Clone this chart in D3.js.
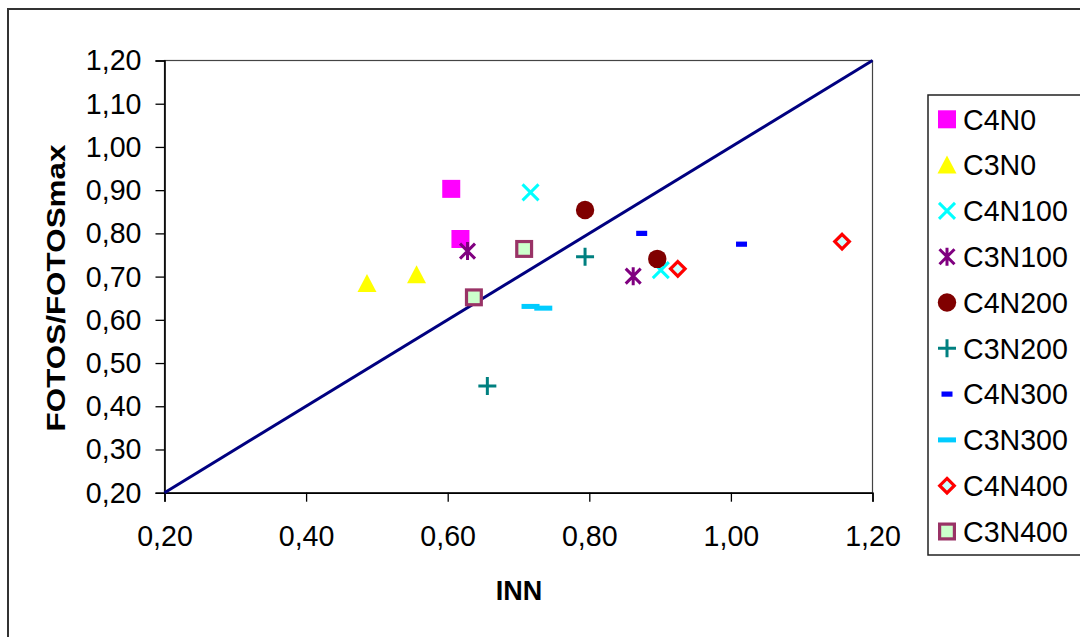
<!DOCTYPE html>
<html>
<head>
<meta charset="utf-8">
<script src="https://cdn.jsdelivr.net/npm/d3@7"></script>
<style>
  html, body { margin: 0; padding: 0; background: #fff; }
  svg { display: block; font-family: "Liberation Sans", Arial, sans-serif; }
</style>
</head>
<body>
<svg id="chart" width="1080" height="637"></svg>
<script>
// Series names, in legend order
const seriesNames = ["C4N0", "C3N0", "C4N100", "C3N100", "C4N200", "C3N200", "C4N300", "C3N300", "C4N400", "C3N400"];
// INN (x) values per series
const innValues = [
  [0.605, 0.618],
  [0.486, 0.556],
  [0.717, 0.901],
  [0.628, 0.862],
  [0.794, 0.896],
  [0.794, 0.656],
  [0.874, 1.015],
  [0.717, 0.735],
  [0.925, 1.157],
  [0.708, 0.637]
];
// FOTOS/FOTOSmax (y) values per series
const fotosValues = [
  [0.903, 0.787],
  [0.684, 0.704],
  [0.895, 0.715],
  [0.759, 0.701],
  [0.854, 0.741],
  [0.746, 0.447],
  [0.800, 0.775],
  [0.631, 0.627],
  [0.718, 0.781],
  [0.764, 0.652]
];
const xTicks = [0.2, 0.4, 0.6, 0.8, 1.0, 1.2];
const yTicks = [0.2, 0.3, 0.4, 0.5, 0.6, 0.7, 0.8, 0.9, 1.0, 1.1, 1.2];
// 1:1 reference line
const refLine = [[0.2, 0.2], [1.2, 1.2]];

const svg = d3.select("#chart");
const fmt = v => d3.format(".2f")(v).replace(".", ",");

const x = d3.scaleLinear().domain([0.2, 1.2]).range([164.5, 872.5]);
const y = d3.scaleLinear().domain([0.2, 1.2]).range([492.7, 60.5]);

// outer chart frame
svg.append("rect").attr("x", 8).attr("y", 9).attr("width", 1100).attr("height", 700)
  .attr("fill", "#fff").attr("stroke", "#333").attr("stroke-width", 2);

// plot area border
svg.append("rect").attr("x", x(0.2)).attr("y", y(1.2))
  .attr("width", x(1.2) - x(0.2)).attr("height", y(0.2) - y(1.2))
  .attr("fill", "none").attr("stroke", "#444").attr("stroke-width", 1.2);

// axes
const yAxis = svg.append("g").attr("transform", `translate(${x(0.2)},0)`)
  .call(d3.axisLeft(y).tickValues(yTicks).tickFormat(fmt).tickSize(9).tickPadding(14));
const xAxis = svg.append("g").attr("transform", `translate(0,${y(0.2)})`)
  .call(d3.axisBottom(x).tickValues(xTicks).tickFormat(fmt).tickSize(9).tickPadding(24));
[yAxis, xAxis].forEach(g => {
  g.select(".domain").attr("stroke", "#000").attr("stroke-width", 1.6);
  g.selectAll(".tick line").attr("stroke", "#000").attr("stroke-width", 1.3);
  g.selectAll("text").attr("font-size", 28.6).attr("fill", "#000")
    .attr("font-family", "'Liberation Sans', Arial, sans-serif");
});
yAxis.selectAll("text").attr("dy", "0.33em");

// axis titles
svg.append("text").attr("x", 519).attr("y", 599.5).attr("text-anchor", "middle")
  .attr("font-size", 27).attr("font-weight", "bold").text("INN");
svg.append("text").attr("transform", "translate(65,288) rotate(-90)")
  .attr("text-anchor", "middle").attr("font-size", 26).attr("font-weight", "bold")
  .attr("textLength", 287).attr("lengthAdjust", "spacingAndGlyphs")
  .text("FOTOS/FOTOSmax");

// diagonal line
svg.append("path").datum(refLine)
  .attr("d", d3.line().x(d => x(d[0])).y(d => y(d[1])))
  .attr("stroke", "#000080").attr("stroke-width", 3).attr("fill", "none");

// marker drawing per series
function drawMarker(g, i) {
  switch (i) {
    case 0: // magenta square
      g.append("rect").attr("x", -9).attr("y", -9).attr("width", 18).attr("height", 18)
        .attr("fill", "#FF00FF"); break;
    case 1: // yellow triangle
      g.append("path").attr("d", "M0,-9.5L9.5,8.5L-9.5,8.5Z").attr("fill", "#FFFF00"); break;
    case 2: // cyan x
      g.append("path").attr("d", "M-8,-8L8,8M-8,8L8,-8").attr("stroke", "#00FFFF")
        .attr("stroke-width", 3); break;
    case 3: // purple asterisk
      g.append("path").attr("d", "M0,-9L0,9M-7.5,-7.5L7.5,7.5M-7.5,7.5L7.5,-7.5")
        .attr("stroke", "#800080").attr("stroke-width", 3); break;
    case 4: // dark red circle
      g.append("circle").attr("r", 9.2).attr("fill", "#800000"); break;
    case 5: // teal plus
      g.append("path").attr("d", "M-9,0L9,0M0,-9L0,9").attr("stroke", "#008080")
        .attr("stroke-width", 3); break;
    case 6: // short blue dash
      g.append("rect").attr("x", -5.5).attr("y", -2.6).attr("width", 11).attr("height", 5.2)
        .attr("fill", "#0000FF"); break;
    case 7: // long sky-blue dash
      g.append("rect").attr("x", -9).attr("y", -2.5).attr("width", 18).attr("height", 5)
        .attr("fill", "#00CCFF"); break;
    case 8: // red diamond
      g.append("path").attr("d", "M0,-7.3L7.3,0L0,7.3L-7.3,0Z").attr("fill", "#CCFFFF")
        .attr("stroke", "#FF0000").attr("stroke-width", 3.2); break;
    case 9: // plum square
      g.append("rect").attr("x", -7.4).attr("y", -7.4).attr("width", 14.8).attr("height", 14.8)
        .attr("fill", "#CCFFCC").attr("stroke", "#993366").attr("stroke-width", 3.2); break;
  }
}

// data points
seriesNames.forEach((name, i) => {
  const pts = innValues[i].map((v, j) => [v, fotosValues[i][j]]);
  svg.append("g").attr("class", "series-" + name)
    .selectAll("g").data(pts).join("g")
    .attr("transform", d => `translate(${x(d[0])},${y(d[1])})`)
    .each(function () { drawMarker(d3.select(this), i); });
});

// legend
svg.append("rect").attr("x", 928).attr("y", 95).attr("width", 200).attr("height", 460)
  .attr("fill", "#fff").attr("stroke", "#222").attr("stroke-width", 1.5);
const legend = svg.append("g");
seriesNames.forEach((name, i) => {
  const cy = 119.3 + i * 45.8;
  const g = legend.append("g").attr("transform", `translate(947,${cy})`);
  drawMarker(g, i);
  legend.append("text").attr("x", 963).attr("y", cy + 10.3)
    .attr("font-size", 28.6).attr("fill", "#000").text(name);
});
</script>
</body>
</html>
